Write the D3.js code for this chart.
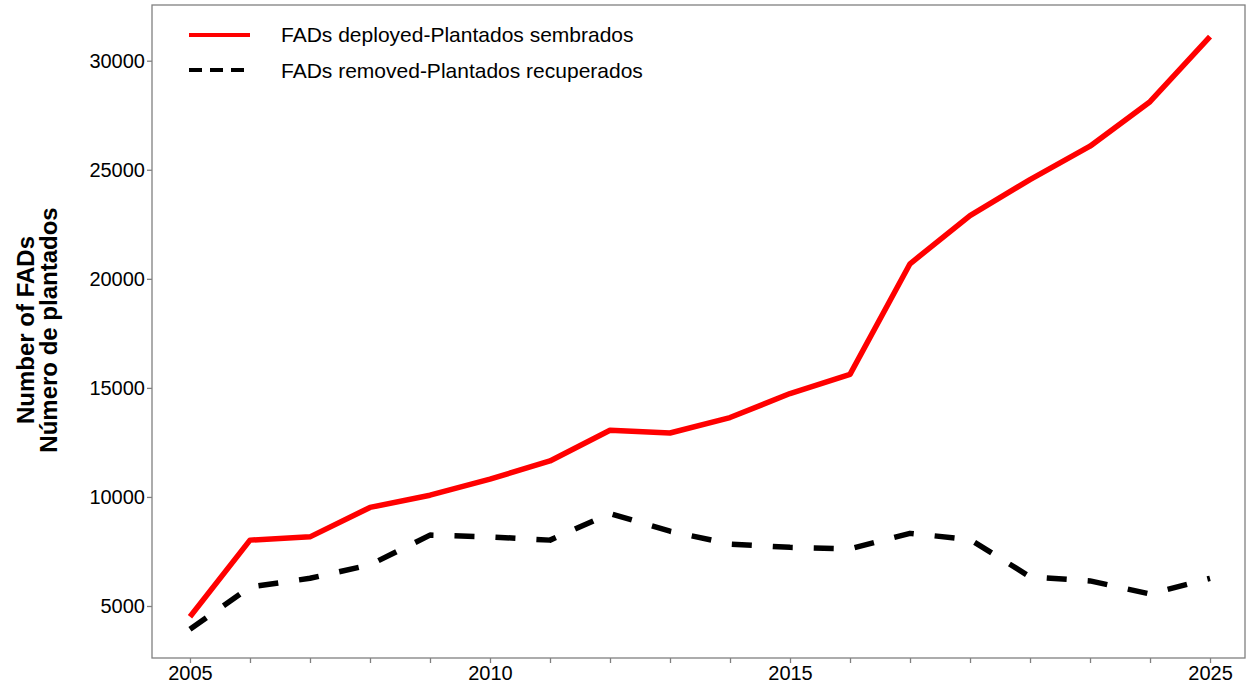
<!DOCTYPE html>
<html>
<head>
<meta charset="utf-8">
<script src="https://cdn.jsdelivr.net/npm/d3@7"></script>
<style>
  html, body { margin: 0; padding: 0; background: #fff; }
  svg { display: block; font-family: "Liberation Sans", Arial, sans-serif; }
</style>
</head>
<body>
<svg id="chart" width="1249" height="688"></svg>
<script>
// ---- Data ----
const pointIndex = [0,1,2,3,4,5,6,7,8,9,10,11,12,13,14,15,16,17];
const deployed = [4510, 8020, 8170, 9520, 10080, 10820, 11650, 13060, 12930, 13640, 14740, 15620, 20690, 22900, 24550, 26080, 28120, 31100];
const removed  = [3930, 5870, 6270, 6890, 8250, 8170, 8020, 9240, 8430, 7840, 7690, 7620, 8330, 8050, 6340, 6150, 5550, 6270];
const xTickIndex  = [0,1,2,3,4,5,6,7,8,9,10,11,12,13,14,15,16,17];
const xTickLabels = ["2005","","","","","2010","","","","","2015","","","","","","","2025"];
const yTickValues = [5000, 10000, 15000, 20000, 25000, 30000];
const seriesNames = ["FADs deployed-Plantados sembrados", "FADs removed-Plantados recuperados"];
const yTitleLines = ["Number of FADs", "Número de plantados"];

// ---- Layout ----
const svg = d3.select("#chart");
const L = 152, R = 1245, T = 5, B = 658;
const axisColor = "#808080";

const x = d3.scaleLinear().domain([-0.633, 17.583]).range([L, R]);
const y = d3.scaleLinear().domain([2616, 32554]).range([B, T]);

// frame
svg.append("rect")
  .attr("x", L).attr("y", T).attr("width", R - L).attr("height", B - T)
  .attr("fill", "none").attr("stroke", axisColor).attr("stroke-width", 1.3);

// y axis
const yAxis = svg.append("g").attr("transform", `translate(${L},0)`)
  .call(d3.axisLeft(y).tickValues(yTickValues).tickSize(5).tickPadding(2).tickFormat(d3.format("d")));
yAxis.select(".domain").remove();
yAxis.selectAll(".tick line").attr("stroke", axisColor).attr("stroke-width", 1.3);
yAxis.selectAll(".tick text").attr("font-size", 20).attr("fill", "#000")
  .attr("font-family", "'Liberation Sans', Arial, sans-serif");

// x axis
const xAxis = svg.append("g").attr("transform", `translate(0,${B})`)
  .call(d3.axisBottom(x).tickValues(xTickIndex).tickSize(5).tickPadding(3)
    .tickFormat((d, i) => xTickLabels[i]));
xAxis.select(".domain").remove();
xAxis.selectAll(".tick line").attr("stroke", axisColor).attr("stroke-width", 1.3);
xAxis.selectAll(".tick text").attr("font-size", 20).attr("fill", "#000")
  .attr("font-family", "'Liberation Sans', Arial, sans-serif");

// y title
const yt = svg.append("text")
  .attr("transform", "translate(0,330) rotate(-90)")
  .attr("text-anchor", "middle")
  .attr("font-size", 24).attr("font-weight", "bold").attr("fill", "#000");
yt.append("tspan").attr("x", 0).attr("y", 34).text(yTitleLines[0]);
yt.append("tspan").attr("x", 0).attr("y", 57).text(yTitleLines[1]);

// lines
const line = d3.line().x((d, i) => x(pointIndex[i])).y(d => y(d));

svg.append("path").datum(removed)
  .attr("d", line).attr("fill", "none")
  .attr("stroke", "#000").attr("stroke-width", 5.5)
  .attr("stroke-dasharray", "20,21").attr("stroke-linejoin", "round");

svg.append("path").datum(deployed)
  .attr("d", line).attr("fill", "none")
  .attr("stroke", "#ff0000").attr("stroke-width", 5.5)
  .attr("stroke-linejoin", "round");

// legend
const lg = svg.append("g");
lg.append("line").attr("x1", 189).attr("x2", 250).attr("y1", 35).attr("y2", 35)
  .attr("stroke", "#ff0000").attr("stroke-width", 4);
lg.append("line").attr("x1", 189).attr("x2", 244).attr("y1", 70).attr("y2", 70)
  .attr("stroke", "#000").attr("stroke-width", 4).attr("stroke-dasharray", "13,8");
lg.append("text").attr("x", 281).attr("y", 35).attr("dy", "0.35em")
  .attr("font-size", 21).attr("fill", "#000").text(seriesNames[0]);
lg.append("text").attr("x", 281).attr("y", 71).attr("dy", "0.35em")
  .attr("font-size", 21).attr("fill", "#000").text(seriesNames[1]);
</script>
</body>
</html>
